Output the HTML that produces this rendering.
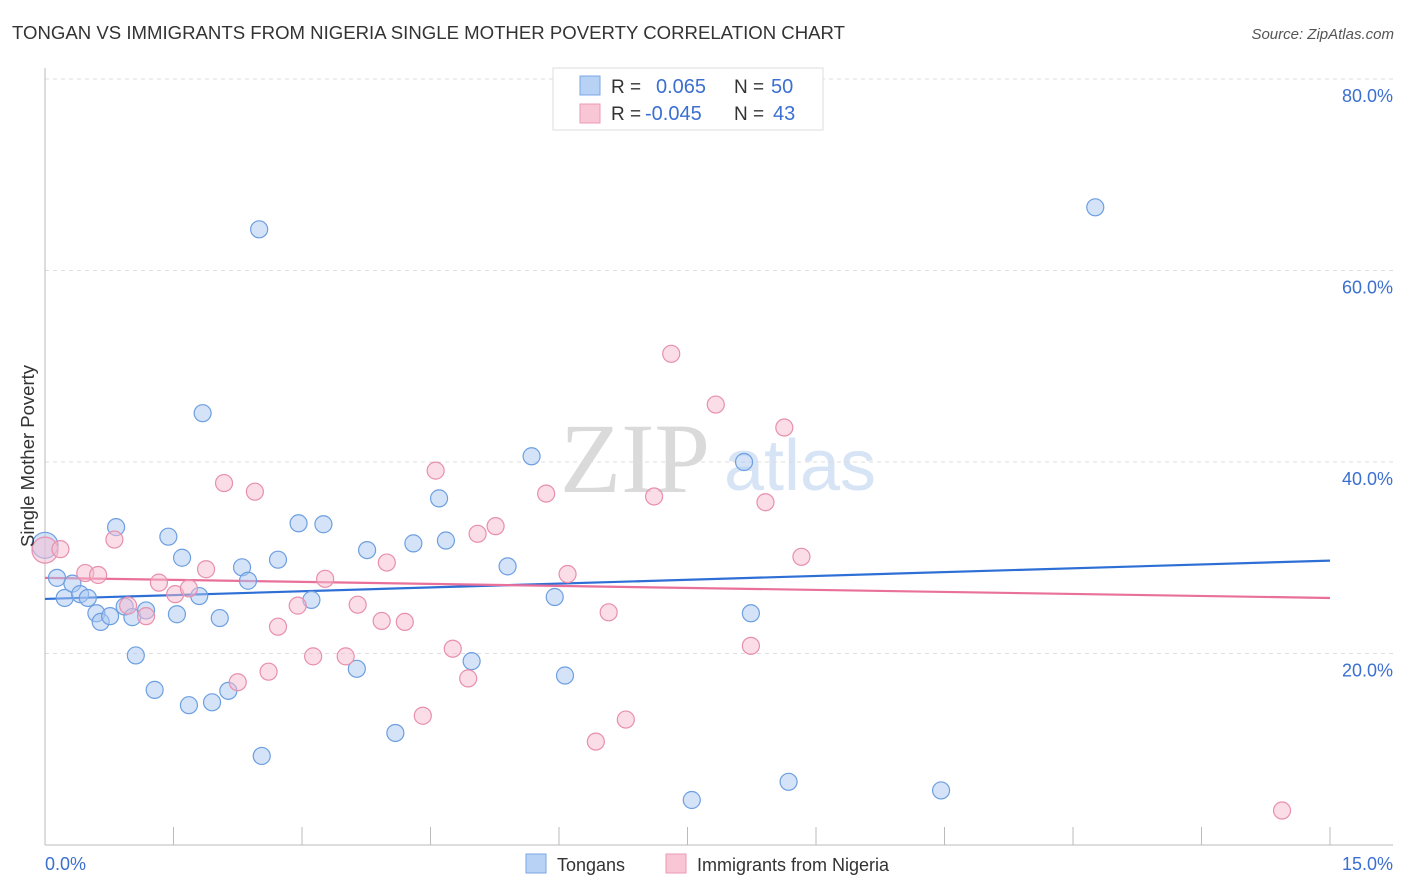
<!DOCTYPE html>
<html><head><meta charset="utf-8">
<style>
body{margin:0;background:#fff;font-family:"Liberation Sans",sans-serif;}
#wrap{position:relative;width:1406px;height:892px;overflow:hidden;}
svg{position:absolute;left:0;top:0;}
</style></head>
<body>
<div id="wrap">
<svg id="chart" width="1406" height="892">
  <text x="12" y="39" font-size="18" fill="#333" textLength="833" lengthAdjust="spacingAndGlyphs">TONGAN VS IMMIGRANTS FROM NIGERIA SINGLE MOTHER POVERTY CORRELATION CHART</text>
  <text x="1394" y="39" font-size="15" fill="#555" font-style="italic" text-anchor="end">Source: ZipAtlas.com</text>
  <text x="635" y="492" font-size="100" fill="#dadada" font-family="Liberation Serif,serif" text-anchor="middle">ZIP</text>
  <text x="800" y="490" font-size="72" fill="#d6e4f5" text-anchor="middle">atlas</text>
  <g id="grid"></g>
  <g id="axes"></g>
  <g id="lines"></g>
  <g id="pts"></g>
  <text x="34" y="456" font-size="18.5" fill="#333" text-anchor="middle" transform="rotate(-90 34 456)">Single Mother Poverty</text>
  <text x="45" y="870" font-size="18" fill="#3b6fd0">0.0%</text>
  <text x="1393" y="870" font-size="18" fill="#3b6fd0" text-anchor="end">15.0%</text>
  <g>
    <rect x="553" y="68" width="270" height="62" fill="#fff" stroke="#ddd"/>
    <rect x="580" y="76" width="20" height="19" fill="#b8d2f5" stroke="#7aa7e6"/>
    <rect x="580" y="104" width="20" height="19" fill="#f9c6d5" stroke="#ec9ab4"/>
    <text x="611" y="93" font-size="19" fill="#333">R =</text>
    <text x="656" y="93" font-size="20" fill="#3b6fd0">0.065</text>
    <text x="734" y="93" font-size="19" fill="#333">N =</text>
    <text x="771" y="93" font-size="20" fill="#3b6fd0">50</text>
    <text x="611" y="120" font-size="19" fill="#333">R =</text>
    <text x="645" y="120" font-size="20" fill="#3b6fd0">-0.045</text>
    <text x="734" y="120" font-size="19" fill="#333">N =</text>
    <text x="773" y="120" font-size="20" fill="#3b6fd0">43</text>
  </g>
  <g>
    <rect x="526" y="854" width="20" height="19" fill="#b8d2f5" stroke="#7aa7e6"/>
    <text x="557" y="871" font-size="18" fill="#333">Tongans</text>
    <rect x="666" y="854" width="20" height="19" fill="#f9c6d5" stroke="#ec9ab4"/>
    <text x="697" y="871" font-size="18" fill="#333">Immigrants from Nigeria</text>
  </g>
</svg>
</div>
<script>
const yTicks=[20,40,60,80];
const yTickLabels=["20.0%","40.0%","60.0%","80.0%"];
const xTicks=[0,1.5,3,4.5,6,7.5,9,10.5,12,13.5,15];
const tonganX=[0,0.14,0.23,0.32,0.41,0.5,0.6,0.65,0.76,0.83,0.93,1.02,1.06,1.18,1.28,1.44,1.54,1.6,1.68,1.8,1.84,1.95,2.04,2.14,2.3,2.37,2.5,2.53,2.72,2.96,3.11,3.25,3.64,3.76,4.09,4.3,4.6,4.68,4.98,5.4,5.68,5.95,6.07,7.55,8.16,8.24,8.68,10.46,12.26];
const tonganY=[31.3,27.9,25.8,27.3,26.2,25.8,24.2,23.3,23.9,33.2,24.9,23.8,19.8,24.5,16.2,32.2,24.1,30,14.6,26,45.1,14.9,23.7,16.1,29,27.6,64.3,9.3,29.8,33.6,25.6,33.5,18.4,30.8,11.7,31.5,36.2,31.8,19.2,29.1,40.6,25.9,17.7,4.7,40,24.2,6.6,5.7,66.6];
const nigeriaX=[0,0.18,0.47,0.62,0.81,0.97,1.18,1.33,1.52,1.68,1.88,2.09,2.25,2.45,2.61,2.72,2.95,3.13,3.27,3.51,3.65,3.93,3.99,4.2,4.41,4.56,4.76,4.94,5.05,5.26,5.85,6.1,6.43,6.58,6.78,7.11,7.31,7.83,8.24,8.41,8.63,8.83,14.44];
const nigeriaY=[30.8,30.9,28.4,28.2,31.9,25,23.9,27.4,26.2,26.8,28.8,37.8,17,36.9,18.1,22.8,25,19.7,27.8,19.7,25.1,23.4,29.5,23.3,13.5,39.1,20.5,17.4,32.5,33.3,36.7,28.3,10.8,24.3,13.1,36.4,51.3,46,20.8,35.8,43.6,30.1,3.6];
const tonganTrend=[25.7,29.7];
const nigeriaTrend=[27.9,25.8];

const NS="http://www.w3.org/2000/svg";
const X0=45,X1=1330,Y0=845,YPER=191.5/20;
function sx(v){return X0+(v/15)*(X1-X0);}
function sy(v){return Y0-v*YPER;}
function mk(tag,attrs,parent){const e=document.createElementNS(NS,tag);for(const k in attrs)e.setAttribute(k,attrs[k]);parent.appendChild(e);return e;}
const grid=document.getElementById('grid'),axes=document.getElementById('axes'),lines=document.getElementById('lines'),pts=document.getElementById('pts');
yTicks.forEach((t,i)=>{
  const l=mk('line',{x1:X0,x2:1393,y1:sy(t),y2:sy(t),stroke:'#ddd','stroke-dasharray':'4,4'},grid);
  
  
  const tx=mk('text',{x:1393,y:sy(t)+23,'font-size':18,fill:'#3b6fd0','text-anchor':'end'},grid);
  tx.textContent=yTickLabels[i];
  
  
});
const ya=mk('line',{x1:X0,x2:X0,y1:68,y2:Y0,stroke:'#bbb'},axes);


const xa=mk('line',{x1:X0,x2:1393,y1:Y0,y2:Y0,stroke:'#bbb'},axes);


xTicks.forEach(t=>{
  const l=mk('line',{x1:sx(t),x2:sx(t),y1:Y0,y2:Y0-18,stroke:'#bbb'},axes);
  
  
});
function drawPts(xs,ys,fill,stroke,name){
  xs.forEach((x,i)=>{
    const r=(x===0)?13:8.5;
    const c=mk('circle',{cx:sx(x),cy:sy(ys[i]),r:r,fill:fill,'fill-opacity':0.5,stroke:stroke,'stroke-width':1.2},pts);
    
    
  });
}
drawPts(tonganX,tonganY,'#a9c8f2','#6d9fe0','tongan-point');
drawPts(nigeriaX,nigeriaY,'#f7bcd0','#e88fac','nigeria-point');
const tl=mk('line',{x1:sx(0),x2:sx(15),y1:sy(tonganTrend[0]),y2:sy(tonganTrend[1]),stroke:'#2e6fd6','stroke-width':2.2},lines);


const nl=mk('line',{x1:sx(0),x2:sx(15),y1:sy(nigeriaTrend[0]),y2:sy(nigeriaTrend[1]),stroke:'#e8709a','stroke-width':2.2},lines);


</script>
</body></html>
